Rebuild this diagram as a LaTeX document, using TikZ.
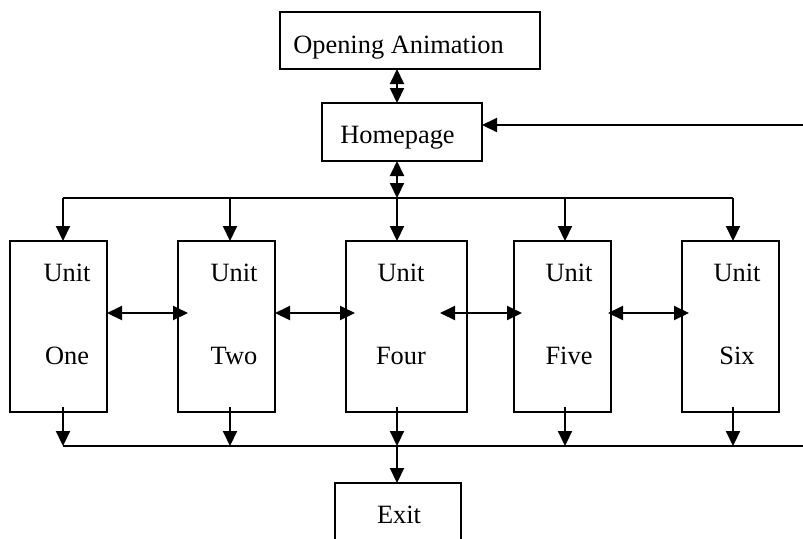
\documentclass[tikz,border=0pt]{standalone}
\usepackage{fontspec}
\setmainfont{Liberation Serif}
\usetikzlibrary{arrows.meta,positioning,calc}
\tikzset{
	box/.style={draw, line width=0.8pt, inner sep=0pt, outer sep=0pt},
	unitbox/.style={box, minimum width=48.5pt, minimum height=85.5pt},
	txt/.style={anchor=base, inner sep=0pt, font=\fontsize{13.2}{15}\selectfont},
	link/.style={line width=1pt, -{Triangle[length=7.5pt,width=7pt]}},
	dlink/.style={line width=1pt, {Triangle[length=7.5pt,width=7pt]}-{Triangle[length=7.5pt,width=7pt]}},
	bus/.style={line width=1pt},
}

\begin{document}
\begin{tikzpicture}
	\clip (0,0) rectangle (401.5pt,-269pt);
	
	\coordinate (c1) at (31.5pt,0);
	\coordinate (c2) at (115pt,0);
	\coordinate (c3) at (198.5pt,0);
	\coordinate (c4) at (282.5pt,0);
	\coordinate (c5) at (366.5pt,0);
	\coordinate (topbus) at (0,-99pt);
	\coordinate (botbus) at (0,-223pt);
	\coordinate (hlink) at (0,-156.5pt);
	\coordinate (back) at (401.5pt,-62.5pt);
	\coordinate (busend) at (401.5pt,-223pt);
	
	\node[box, minimum width=130pt, minimum height=28.5pt] (open) at (205pt,-20.25pt) {};
	\node[box, minimum width=80pt, minimum height=29pt] (home) at (201pt,-66pt) {};
	\node[unitbox] (one) at (29.25pt,-163.25pt) {};
	\node[unitbox, right=35.5pt of one] (two) {};
	\node[unitbox, minimum width=60.5pt, right=35.5pt of two] (four) {};
	\node[unitbox, right=23.5pt of four] (five) {};
	\node[unitbox, right=35.5pt of five] (six) {};
	\node[box, minimum width=63pt, minimum height=40pt, anchor=north] (exit) at (199pt,-241.5pt) {};
	
	% texts
	\node[txt] (openT) at (199.25pt,-26.5pt) {Opening Animation};
	\node[txt] (homeT) at (198.75pt,-71.5pt) {Homepage};
	\node[txt] (exitT) at (199.5pt,-261.5pt) {Exit};
	\node[txt] (oneA) at ($(c1)+(2pt,-140.5pt)$) {Unit};
	\node[txt] (oneB) at ($(c1)+(2pt,-182pt)$) {One};
	\node[txt] (twoA) at ($(c2)+(2pt,-140.5pt)$) {Unit};
	\node[txt] (twoB) at ($(c2)+(2pt,-182pt)$) {Two};
	\node[txt] (fourA) at ($(c3)+(2pt,-140.5pt)$) {Unit};
	\node[txt] (fourB) at ($(c3)+(2pt,-182pt)$) {Four};
	\node[txt] (fiveA) at ($(c4)+(2pt,-140.5pt)$) {Unit};
	\node[txt] (fiveB) at ($(c4)+(2pt,-182pt)$) {Five};
	\node[txt] (sixA) at ($(c5)+(2pt,-140.5pt)$) {Unit};
	\node[txt] (sixB) at ($(c5)+(2pt,-182pt)$) {Six};
	
	% top part
	\draw[dlink] (open.south -| c3) -- (home.north -| c3);
	\draw[dlink] (home.south -| c3) -- (c3 |- topbus);
	\draw[link] (back) -- (back -| home.east);
	\draw[bus] (c1 |- topbus) -- (c5 |- topbus);
	\draw[link] (c1 |- topbus) -- (c1 |- one.north);
	\draw[link] (c2 |- topbus) -- (c2 |- two.north);
	\draw[link] (c3 |- topbus) -- (c3 |- four.north);
	\draw[link] (c4 |- topbus) -- (c4 |- five.north);
	\draw[link] (c5 |- topbus) -- (c5 |- six.north);
	
	% between units
	\draw[dlink] (one.east |- hlink) -- ($(two.west |- hlink)+(5pt,0)$);
	\draw[dlink] (two.east |- hlink) -- ($(four.west |- hlink)+(4.5pt,0)$);
	\draw[dlink] ($(four.east |- hlink)+(-13.5pt,0)$) -- ($(five.west |- hlink)+(4pt,0)$);
	\draw[dlink] ($(five.east |- hlink)+(-1.5pt,0)$) -- ($(six.west |- hlink)+(3.5pt,0)$);
	
	% bottom part
	\draw[link] ($(c1 |- one.south)+(0,2.5pt)$) -- (c1 |- botbus);
	\draw[link] ($(c2 |- two.south)+(0,2.5pt)$) -- (c2 |- botbus);
	\draw[link] ($(c3 |- four.south)+(0,2.5pt)$) -- (c3 |- botbus);
	\draw[link] ($(c4 |- five.south)+(0,2.5pt)$) -- (c4 |- botbus);
	\draw[link] ($(c5 |- six.south)+(0,2.5pt)$) -- (c5 |- botbus);
	\draw[bus] (c1 |- botbus) -- (busend);
	\draw[link] (c3 |- botbus) -- (exit.north -| c3);
\end{tikzpicture}
\end{document}
